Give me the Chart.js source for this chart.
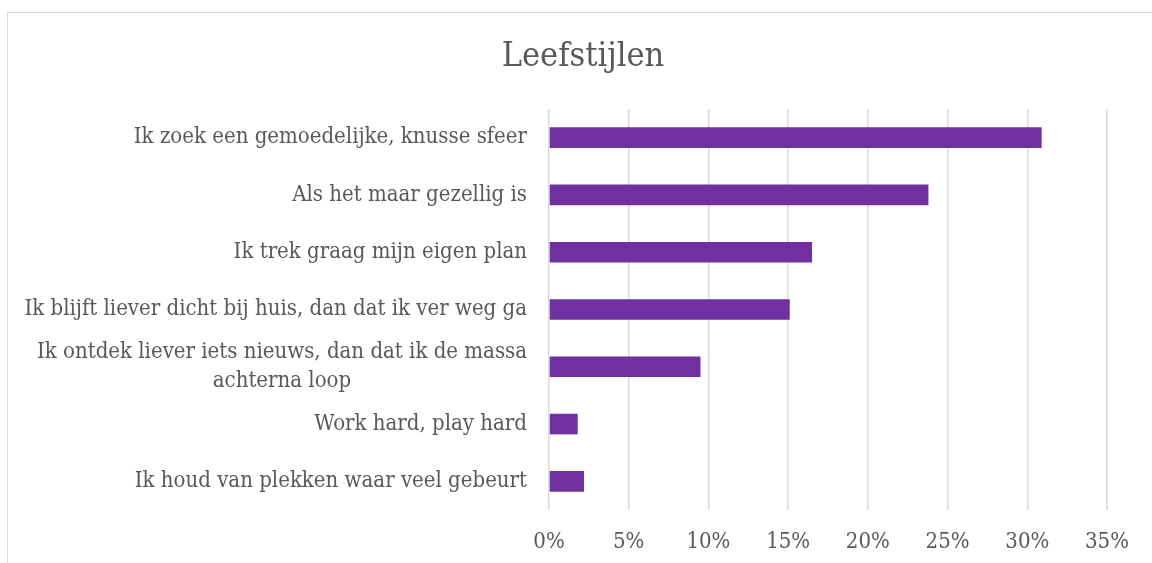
<!DOCTYPE html>
<html>
<head>
<meta charset="utf-8">
<script src="https://cdn.jsdelivr.net/npm/chart.js@4.4.1/dist/chart.umd.min.js"></script>
<style>
  html, body { margin: 0; padding: 0; background: #fff; overflow: hidden; }
  #frame { position: absolute; left: 7px; top: 12px; width: 1300px; height: 700px; border: 1px solid #d9d9d9; }
  #wrap { position: absolute; left: 0; top: 0; width: 1152px; height: 563px; }
</style>
</head>
<body>
<div id="frame"></div>
<div id="wrap"><canvas id="chart"></canvas></div>
<script>
// data
const categories = [
  ['Ik zoek een gemoedelijke, knusse sfeer'],
  ['Als het maar gezellig is'],
  ['Ik trek graag mijn eigen plan'],
  ['Ik blijft liever dicht bij huis, dan dat ik ver weg ga'],
  ['Ik ontdek liever iets nieuws, dan dat ik de massa', 'achterna loop'],
  ['Work hard, play hard'],
  ['Ik houd van plekken waar veel gebeurt']
];
const values = [30.9, 23.8, 16.5, 15.1, 9.5, 1.8, 2.2];
const xMin = 0, xMax = 35, xStep = 5;
const chartTitle = 'Leefstijlen';

const FONT = '"DejaVu Serif Condensed", "DejaVu Serif", serif';
const TEXT = '#595959';

// y labels: block right-aligned, lines centred inside it (like the original)
// title centred over the whole frame
const textPlugin = {
  id: 'textPlugin',
  afterDraw(chart) {
    const ctx = chart.ctx;
    const s = chart.scales.y;
    ctx.save();
    ctx.fillStyle = TEXT;
    ctx.textAlign = 'center';
    ctx.textBaseline = 'middle';

    ctx.font = '34px ' + FONT;
    ctx.fillText(chartTitle, 583, 57);

    ctx.font = '22px ' + FONT;
    const right = chart.chartArea.left - 22;
    const lh = 29;
    categories.forEach((lines, i) => {
      const w = Math.max(...lines.map(l => ctx.measureText(l).width));
      const cy = s.getPixelForValue(i);
      lines.forEach((l, j) => {
        ctx.fillText(l, right - w / 2, cy + (j - (lines.length - 1) / 2) * lh);
      });
    });
    ctx.restore();
  }
};

new Chart(document.getElementById('chart'), {
  type: 'bar',
  data: {
    labels: categories,
    datasets: [{
      data: values,
      backgroundColor: '#7030a0',
      borderWidth: 0,
      barPercentage: 0.36,
      categoryPercentage: 1
    }]
  },
  options: {
    indexAxis: 'y',
    responsive: true,
    maintainAspectRatio: false,
    animation: false,
    layout: { padding: { left: 0, right: 45, top: 109, bottom: 0 } },
    scales: {
      x: {
        min: xMin, max: xMax,
        ticks: {
          stepSize: xStep,
          color: TEXT,
          font: { family: FONT, size: 22 },
          padding: 19,
          callback: v => v + '%'
        },
        grid: { color: '#d9d9d9', lineWidth: 1.5, drawTicks: false },
        border: { display: false },
        afterFit: s => { s.height = 53; }
      },
      y: {
        ticks: { display: false },
        grid: { display: false },
        border: { display: false },
        afterFit: s => { s.width = 549; }
      }
    },
    plugins: {
      legend: { display: false },
      tooltip: { enabled: false },
      title: { display: false }
    }
  },
  plugins: [textPlugin]
});
</script>
</body>
</html>
